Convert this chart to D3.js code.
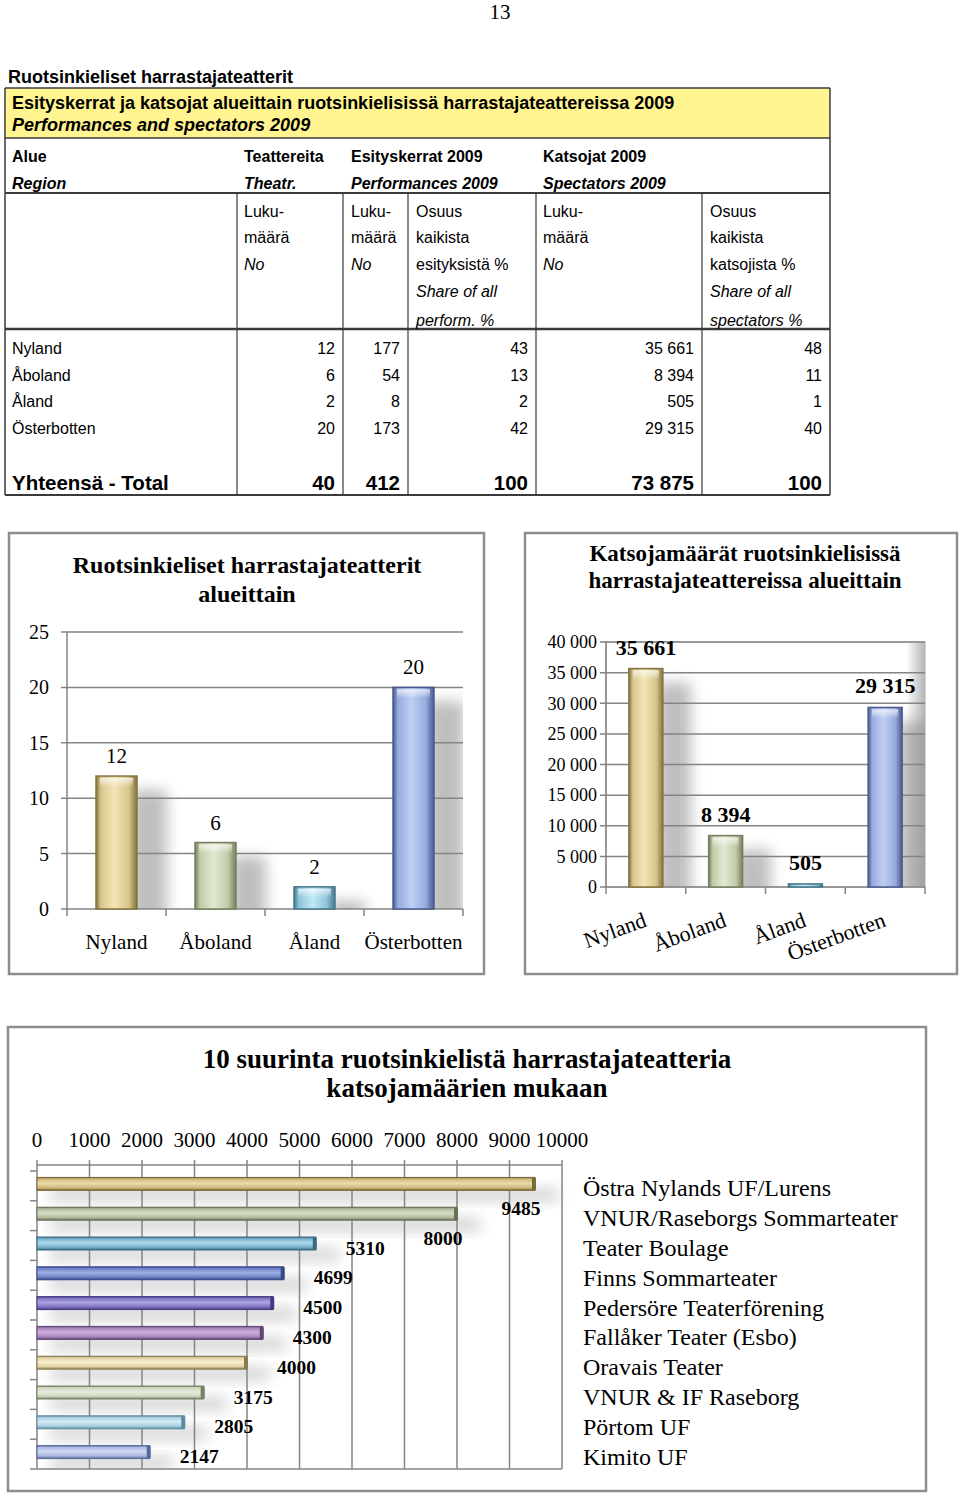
<!DOCTYPE html>
<html>
<head>
<meta charset="utf-8">
<script src="https://cdn.jsdelivr.net/npm/d3@7"></script>
<style>
  body { margin: 0; background: #fff; }
  svg { display: block; }
</style>
</head>
<body>
<div id="chart"></div>
<script>
// table + chart data
const regions = ['Nyland', 'Åboland', 'Åland', 'Österbotten'];
const theatres = [12, 6, 2, 20];
const performances = [177, 54, 8, 173];
const perfShare = [43, 13, 2, 42];
const spectators = [35661, 8394, 505, 29315];
const specShare = [48, 11, 1, 40];

const topTheatres = [
  'Östra Nylands UF/Lurens', 'VNUR/Raseborgs Sommarteater', 'Teater Boulage',
  'Finns Sommarteater', 'Pedersöre Teaterförening', 'Fallåker Teater (Esbo)',
  'Oravais Teater', 'VNUR & IF Raseborg', 'Pörtom UF', 'Kimito UF'
];
const topSpectators = [9485, 8000, 5310, 4699, 4500, 4300, 4000, 3175, 2805, 2147];

// colours: [light, mid, dark]
const regionColors = [
  ['#f1e5b6', '#d8c68c', '#85743f'],
  ['#e2e9d3', '#c1cba8', '#767f5f'],
  ['#c0e8f5', '#8cc4d8', '#46788b'],
  ['#c0cff3', '#96abdf', '#4a5a8c']
];
const topColors = [
  ['#ebdcaa', '#cdb880', '#7a6939'],
  ['#d6ddc6', '#b1bb9e', '#687055'],
  ['#acd8ea', '#76aeca', '#3a6882'],
  ['#9eb0e4', '#6d82c6', '#374787'],
  ['#aba3e4', '#7e73c2', '#433a82'],
  ['#cdb0dc', '#a784bb', '#604675'],
  ['#f6eecf', '#e2d3a2', '#8b7c53'],
  ['#e7ecdd', '#ccd5bb', '#778065'],
  ['#d4ebf4', '#a8cfe1', '#5a8a9f'],
  ['#d2dbf4', '#a8b6e2', '#5a6796']
];

const sans = "'Liberation Sans', Arial, sans-serif";
const serif = "'Liberation Serif', 'Times New Roman', serif";
const spaceFmt = d3.formatLocale({ decimal: ',', thousands: '\u00a0', grouping: [3], currency: ['', ''] }).format(',d');

const svg = d3.select('#chart').append('svg')
  .attr('width', 960).attr('height', 1494);
const defs = svg.append('defs');

defs.append('filter').attr('id', 'blur').attr('x', '-50%').attr('y', '-50%').attr('width', '200%').attr('height', '200%')
  .append('feGaussianBlur').attr('stdDeviation', 7);

function barGradient(id, c, vertical) {
  const g = defs.append('linearGradient').attr('id', id)
    .attr('x1', 0).attr('y1', 0).attr('x2', vertical ? 1 : 0).attr('y2', vertical ? 0 : 1);
  [[0, c[2]], [0.12, c[1]], [0.45, c[0]], [0.8, c[1]], [1, c[2]]].forEach(s => {
    g.append('stop').attr('offset', s[0]).attr('stop-color', s[1]);
  });
}
regionColors.forEach((c, i) => barGradient('rg' + i, c, true));
topColors.forEach((c, i) => barGradient('tg' + i, c, false));

const shine = defs.append('linearGradient').attr('id', 'shine').attr('x1', 0).attr('y1', 0).attr('x2', 0).attr('y2', 1);
shine.append('stop').attr('offset', 0).attr('stop-color', '#fff').attr('stop-opacity', 0.7);
shine.append('stop').attr('offset', 1).attr('stop-color', '#fff').attr('stop-opacity', 0);

const sideWall = defs.append('linearGradient').attr('id', 'sideWall').attr('x1', 0).attr('x2', 1).attr('y1', 0).attr('y2', 0);
sideWall.append('stop').attr('offset', 0).attr('stop-color', '#fff');
sideWall.append('stop').attr('offset', 1).attr('stop-color', '#b5b5b5');

// ---------- page number ----------
svg.append('text').attr('x', 500).attr('y', 19).attr('text-anchor', 'middle')
  .attr('font-family', serif).attr('font-size', 21).text('13');

// ---------- table ----------
const tbl = svg.append('g');
const L = 5, R = 830;
const colX = [237, 343, 408, 536, 702];
const colRight = [335, 400, 528, 694, 822];

tbl.append('text').attr('x', 8).attr('y', 83)
  .attr('font-family', sans).attr('font-size', 18).attr('font-weight', 'bold')
  .text('Ruotsinkieliset harrastajateatterit');

tbl.append('rect').attr('x', L).attr('y', 88).attr('width', R - L).attr('height', 50)
  .attr('fill', '#fff48f');
tbl.append('text').attr('x', 12).attr('y', 109)
  .attr('font-family', sans).attr('font-size', 18).attr('font-weight', 'bold')
  .text('Esityskerrat ja katsojat alueittain ruotsinkielisissä harrastajateattereissa 2009');
tbl.append('text').attr('x', 12).attr('y', 131)
  .attr('font-family', sans).attr('font-size', 18).attr('font-weight', 'bold').attr('font-style', 'italic')
  .text('Performances and spectators 2009');

const line = (x1, y1, x2, y2, w) => tbl.append('line')
  .attr('x1', x1).attr('y1', y1).attr('x2', x2).attr('y2', y2)
  .attr('stroke', '#3a3a3a').attr('stroke-width', w || 1.5);
line(L, 88, R, 88, 1.5);
line(L, 138, R, 138, 1.5);
line(L, 193, R, 193, 2);
line(L, 329, R, 329, 2.5);
line(L, 495, R, 495, 2);
line(L, 88, L, 495, 1.5);
line(R, 88, R, 495, 1.5);
colX.forEach(x => line(x, 193, x, 495, 1.2));

const headers = [
  [12, 'Alue', 'Region'],
  [244, 'Teattereita', 'Theatr.'],
  [351, 'Esityskerrat 2009', 'Performances 2009'],
  [543, 'Katsojat 2009', 'Spectators 2009']
];
headers.forEach(h => {
  tbl.append('text').attr('x', h[0]).attr('y', 162)
    .attr('font-family', sans).attr('font-size', 16).attr('font-weight', 'bold').text(h[1]);
  tbl.append('text').attr('x', h[0]).attr('y', 189)
    .attr('font-family', sans).attr('font-size', 16).attr('font-weight', 'bold').attr('font-style', 'italic').text(h[2]);
});

const subY = [217, 243, 270, 297, 326];
const countLines = [['Luku-', false], ['määrä', false], ['No', true]];
const shareLines = name => [['Osuus', false], ['kaikista', false], [name, false], ['Share of all', true]];
const subCols = [
  [244, countLines],
  [351, countLines],
  [416, shareLines('esityksistä %').concat([['perform. %', true]])],
  [543, countLines],
  [710, shareLines('katsojista %').concat([['spectators %', true]])]
];
subCols.forEach(c => {
  c[1].forEach((t, i) => {
    tbl.append('text').attr('x', c[0]).attr('y', subY[i])
      .attr('font-family', sans).attr('font-size', 16)
      .attr('font-style', t[1] ? 'italic' : 'normal').text(t[0]);
  });
});

const rowY = [354, 381, 407, 434];
const columns = [theatres, performances, perfShare, spectators, specShare];
regions.forEach((r, i) => {
  tbl.append('text').attr('x', 12).attr('y', rowY[i])
    .attr('font-family', sans).attr('font-size', 16).text(r);
  columns.forEach((col, j) => {
    tbl.append('text').attr('x', colRight[j]).attr('y', rowY[i]).attr('text-anchor', 'end')
      .attr('font-family', sans).attr('font-size', 16).text(spaceFmt(col[i]));
  });
});
tbl.append('text').attr('x', 12).attr('y', 490)
  .attr('font-family', sans).attr('font-size', 20.5).attr('font-weight', 'bold').text('Yhteensä - Total');
columns.forEach((col, j) => {
  tbl.append('text').attr('x', colRight[j]).attr('y', 490).attr('text-anchor', 'end')
    .attr('font-family', sans).attr('font-size', 20.5).attr('font-weight', 'bold')
    .text(spaceFmt(d3.sum(col)));
});

// ---------- chart frames ----------
function frame(x, y, w, h) {
  svg.append('rect').attr('x', x).attr('y', y).attr('width', w).attr('height', h)
    .attr('fill', '#fff').attr('stroke', '#8d8d8d').attr('stroke-width', 2.5);
}
frame(9, 533, 475, 441);
frame(525, 533, 432, 441);
frame(8, 1027, 918, 464);

function title(cx, ys, lines, size) {
  lines.forEach((t, i) => svg.append('text').attr('x', cx).attr('y', ys[i])
    .attr('text-anchor', 'middle').attr('font-family', serif).attr('font-size', size)
    .attr('font-weight', 'bold').text(t));
}

// ---------- chart 1: theatres per region ----------
{
  const g = svg.append('g');
  const x = d3.scaleBand().domain(regions).range([67, 463]);
  const y = d3.scaleLinear().domain([0, 25]).range([909, 632]);
  const bw = 41;
  title(247, [573, 602], ['Ruotsinkieliset harrastajateatterit', 'alueittain'], 24);

  defs.append('clipPath').attr('id', 'clip1').append('rect')
    .attr('x', 67).attr('y', 632).attr('width', 396).attr('height', 277);

  g.append('g').attr('clip-path', 'url(#clip1)').selectAll('rect').data(regions).join('rect')
    .attr('x', d => x(d) + (x.bandwidth() + bw) / 2 - 6)
    .attr('y', (d, i) => y(theatres[i]) + 14)
    .attr('width', 36)
    .attr('height', (d, i) => y(0) - y(theatres[i]))
    .attr('fill', '#8a8a8a').attr('opacity', 0.55).attr('filter', 'url(#blur)');

  g.selectAll('line.grid').data(y.ticks(5)).join('line').attr('class', 'grid')
    .attr('x1', 61).attr('x2', 463).attr('y1', d => y(d)).attr('y2', d => y(d))
    .attr('stroke', '#858585').attr('stroke-width', 1.5);
  g.selectAll('text.yt').data(y.ticks(5)).join('text').attr('class', 'yt')
    .attr('x', 49).attr('y', d => y(d)).attr('dy', '0.35em').attr('text-anchor', 'end')
    .attr('font-family', serif).attr('font-size', 20).text(d => d);
  g.append('line').attr('x1', 67).attr('x2', 67).attr('y1', 632).attr('y2', 909)
    .attr('stroke', '#858585').attr('stroke-width', 1.5);
  g.selectAll('line.xt').data(regions.map(d => x(d)).concat([x.range()[1]])).join('line').attr('class', 'xt')
    .attr('x1', d => d).attr('x2', d => d).attr('y1', 909).attr('y2', 916)
    .attr('stroke', '#858585').attr('stroke-width', 1.5);

  const bars = g.selectAll('g.bar').data(regions).join('g').attr('class', 'bar');
  bars.append('rect')
    .attr('x', d => x(d) + (x.bandwidth() - bw) / 2)
    .attr('y', (d, i) => y(theatres[i]))
    .attr('width', bw)
    .attr('height', (d, i) => y(0) - y(theatres[i]))
    .attr('fill', (d, i) => `url(#rg${i})`)
    .attr('stroke', (d, i) => regionColors[i][2]).attr('stroke-width', 1.5);
  bars.append('rect')
    .attr('x', d => x(d) + (x.bandwidth() - bw) / 2 + 4)
    .attr('y', (d, i) => y(theatres[i]) + 2)
    .attr('width', bw - 8)
    .attr('height', (d, i) => Math.min(9, y(0) - y(theatres[i]) - 4))
    .attr('fill', 'url(#shine)');
  bars.append('text')
    .attr('x', d => x(d) + x.bandwidth() / 2)
    .attr('y', (d, i) => y(theatres[i]) - 13)
    .attr('text-anchor', 'middle').attr('font-family', serif).attr('font-size', 21)
    .text((d, i) => theatres[i]);
  bars.append('text')
    .attr('x', d => x(d) + x.bandwidth() / 2).attr('y', 949)
    .attr('text-anchor', 'middle').attr('font-family', serif).attr('font-size', 21)
    .text(d => d);
}

// ---------- chart 2: spectators per region ----------
{
  const g = svg.append('g');
  const x = d3.scaleBand().domain(regions).range([606, 925]);
  const y = d3.scaleLinear().domain([0, 40000]).range([887, 642]);
  const bw = 34;
  title(745, [561, 588], ['Katsojamäärät ruotsinkielisissä', 'harrastajateattereissa alueittain'], 23);

  g.append('rect').attr('x', 606).attr('y', 642).attr('width', 319).attr('height', 245)
    .attr('fill', '#fff').attr('stroke', '#c4c4c4').attr('stroke-width', 1.5);
  g.append('rect').attr('x', 906).attr('y', 642).attr('width', 19).attr('height', 245)
    .attr('fill', 'url(#sideWall)');

  defs.append('clipPath').attr('id', 'clip2').append('rect')
    .attr('x', 606).attr('y', 642).attr('width', 319).attr('height', 245);
  g.append('g').attr('clip-path', 'url(#clip2)').selectAll('rect').data(regions).join('rect')
    .attr('x', d => x(d) + (x.bandwidth() + bw) / 2 - 6)
    .attr('y', (d, i) => y(spectators[i]) + 14)
    .attr('width', 34)
    .attr('height', (d, i) => y(0) - y(spectators[i]))
    .attr('fill', '#8a8a8a').attr('opacity', 0.55).attr('filter', 'url(#blur)');

  g.selectAll('line.grid').data(y.ticks(8)).join('line').attr('class', 'grid')
    .attr('x1', 600).attr('x2', 925).attr('y1', d => y(d)).attr('y2', d => y(d))
    .attr('stroke', '#858585').attr('stroke-width', 1.5);
  g.selectAll('text.yt').data(y.ticks(8)).join('text').attr('class', 'yt')
    .attr('x', 597).attr('y', d => y(d)).attr('dy', '0.35em').attr('text-anchor', 'end')
    .attr('font-family', serif).attr('font-size', 18).text(d => spaceFmt(d));
  g.append('line').attr('x1', 606).attr('x2', 606).attr('y1', 642).attr('y2', 887)
    .attr('stroke', '#858585').attr('stroke-width', 1.5);
  g.selectAll('line.xt').data(regions.map(d => x(d)).concat([x.range()[1]])).join('line').attr('class', 'xt')
    .attr('x1', d => d).attr('x2', d => d).attr('y1', 887).attr('y2', 894)
    .attr('stroke', '#858585').attr('stroke-width', 1.5);

  const bars = g.selectAll('g.bar').data(regions).join('g').attr('class', 'bar');
  bars.append('rect')
    .attr('x', d => x(d) + (x.bandwidth() - bw) / 2)
    .attr('y', (d, i) => y(spectators[i]))
    .attr('width', bw)
    .attr('height', (d, i) => Math.max(3, y(0) - y(spectators[i])))
    .attr('fill', (d, i) => `url(#rg${i})`)
    .attr('stroke', (d, i) => regionColors[i][2]).attr('stroke-width', 1.5);
  bars.append('rect')
    .attr('x', d => x(d) + (x.bandwidth() - bw) / 2 + 4)
    .attr('y', (d, i) => y(spectators[i]) + 2)
    .attr('width', bw - 8)
    .attr('height', (d, i) => Math.max(0, Math.min(9, y(0) - y(spectators[i]) - 4)))
    .attr('fill', 'url(#shine)');
  bars.append('text')
    .attr('x', d => x(d) + x.bandwidth() / 2)
    .attr('y', (d, i) => y(spectators[i]) - 14)
    .attr('text-anchor', 'middle').attr('font-family', serif).attr('font-size', 22).attr('font-weight', 'bold')
    .text((d, i) => spaceFmt(spectators[i]));
  bars.append('text')
    .attr('transform', d => `translate(${x(d) + x.bandwidth() / 2 + 2},926) rotate(-20)`)
    .attr('text-anchor', 'end').attr('font-family', serif).attr('font-size', 22)
    .text(d => d);
}

// ---------- chart 3: ten biggest theatres ----------
{
  const g = svg.append('g');
  const y = d3.scaleBand().domain(topTheatres).range([1171, 1469]);
  const x = d3.scaleLinear().domain([0, 10000]).range([37, 562]);
  const bh = 13;
  title(467, [1068, 1097], ['10 suurinta ruotsinkielistä harrastajateatteria', 'katsojamäärien mukaan'], 27);

  g.selectAll('text.xt').data(x.ticks(10)).join('text').attr('class', 'xt')
    .attr('x', d => x(d)).attr('y', 1147).attr('text-anchor', 'middle')
    .attr('font-family', serif).attr('font-size', 21).text(d => d);

  defs.append('clipPath').attr('id', 'clip3').append('rect')
    .attr('x', 37).attr('y', 1165).attr('width', 540).attr('height', 304);
  g.append('g').attr('clip-path', 'url(#clip3)').selectAll('rect').data(topTheatres).join('rect')
    .attr('x', 50)
    .attr('y', d => y(d) + y.bandwidth() / 2 + 2)
    .attr('width', (d, i) => x(topSpectators[i]) - 37 + 10)
    .attr('height', 14)
    .attr('fill', '#8a8a8a').attr('opacity', 0.35).attr('filter', 'url(#blur)');

  g.selectAll('line.grid').data(x.ticks(10)).join('line').attr('class', 'grid')
    .attr('x1', d => x(d)).attr('x2', d => x(d)).attr('y1', 1160).attr('y2', 1469)
    .attr('stroke', '#858585').attr('stroke-width', 1.5);
  g.append('line').attr('x1', 37).attr('x2', 562).attr('y1', 1165).attr('y2', 1165)
    .attr('stroke', '#858585').attr('stroke-width', 1.5);
  g.append('line').attr('x1', 30).attr('x2', 562).attr('y1', 1469).attr('y2', 1469)
    .attr('stroke', '#858585').attr('stroke-width', 1.5);
  g.selectAll('line.yt').data(topTheatres.map(d => y(d))).join('line').attr('class', 'yt')
    .attr('x1', 30).attr('x2', 37).attr('y1', d => d).attr('y2', d => d)
    .attr('stroke', '#858585').attr('stroke-width', 1.5);

  const bars = g.selectAll('g.bar').data(topTheatres).join('g').attr('class', 'bar');
  bars.append('rect')
    .attr('x', 37)
    .attr('y', d => y(d) + (y.bandwidth() - bh) / 2 - 2)
    .attr('width', (d, i) => x(topSpectators[i]) - 37)
    .attr('height', bh)
    .attr('fill', (d, i) => `url(#tg${i})`)
    .attr('stroke', (d, i) => topColors[i][2]).attr('stroke-width', 1);
  bars.append('rect')
    .attr('x', (d, i) => x(topSpectators[i]) - 3)
    .attr('y', d => y(d) + (y.bandwidth() - bh) / 2 - 2)
    .attr('width', 4).attr('height', bh).attr('rx', 1.5)
    .attr('fill', (d, i) => topColors[i][2]);

  // labels of long bars drop below the bar end, the rest sit to its right
  const far = v => v > 7000;
  bars.append('text')
    .attr('x', (d, i) => far(topSpectators[i]) ? x(topSpectators[i]) - 14 : x(topSpectators[i]) + 30)
    .attr('y', (d, i) => y(d) + y.bandwidth() / 2 + (far(topSpectators[i]) ? 29 : 9))
    .attr('text-anchor', (d, i) => far(topSpectators[i]) ? 'middle' : 'start')
    .attr('font-family', serif).attr('font-size', 19.5).attr('font-weight', 'bold')
    .text((d, i) => topSpectators[i]);

  bars.append('text')
    .attr('x', 583).attr('y', d => y(d) + y.bandwidth() / 2 + 2).attr('dy', '0.35em')
    .attr('font-family', serif).attr('font-size', 24)
    .text(d => d);
}
</script>
</body>
</html>
